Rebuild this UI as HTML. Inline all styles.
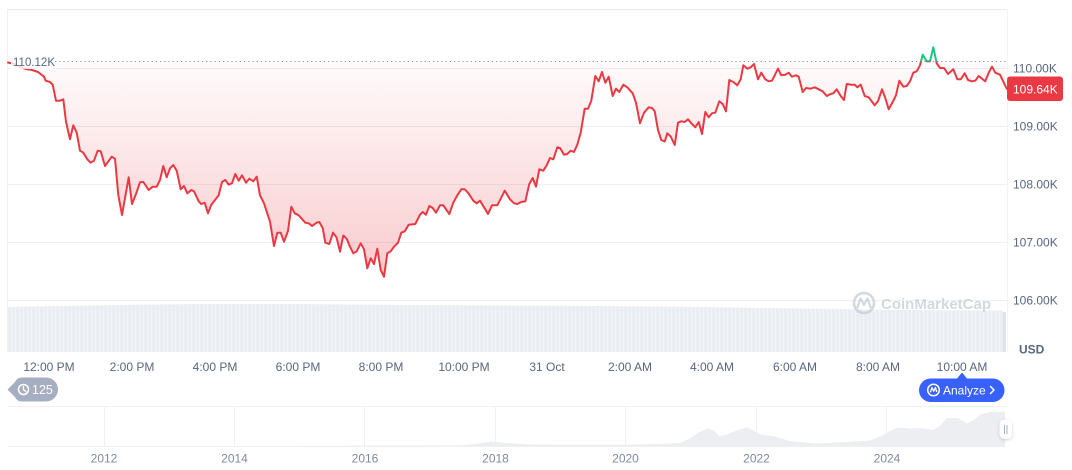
<!DOCTYPE html>
<html>
<head>
<meta charset="utf-8">
<style>
  html,body{margin:0;padding:0;background:#fff;}
  body{width:1072px;height:470px;overflow:hidden;}
  svg{display:block;font-family:"Liberation Sans",sans-serif;}
</style>
</head>
<body>
<svg width="1072" height="470" viewBox="0 0 1072 470" xmlns="http://www.w3.org/2000/svg">
  <defs>
    <linearGradient id="redfill" gradientUnits="userSpaceOnUse" x1="0" y1="62" x2="0" y2="285">
      <stop offset="0" stop-color="#ea3943" stop-opacity="0.02"/>
      <stop offset="1" stop-color="#ea3943" stop-opacity="0.27"/>
    </linearGradient>
    <clipPath id="below"><rect x="0" y="61.5" width="1072" height="300"/></clipPath>
    <clipPath id="above"><rect x="0" y="0" width="1072" height="61.5"/></clipPath>
    <pattern id="vol" width="4" height="60" patternUnits="userSpaceOnUse">
      <rect x="0" y="0" width="4" height="60" fill="#eaedf2"/>
      <rect x="3.2" y="0" width="0.8" height="60" fill="#f3f5f8"/>
    </pattern>
    <filter id="sh" x="-50%" y="-50%" width="200%" height="200%">
      <feDropShadow dx="0" dy="1" stdDeviation="1.5" flood-color="#000" flood-opacity="0.18"/>
    </filter>
  </defs>

  <!-- plot frame -->
  <line x1="8" y1="9.5" x2="1007" y2="9.5" stroke="#e6e9ed" stroke-width="1"/>
  <line x1="7.5" y1="9" x2="7.5" y2="352" stroke="#eef0f3" stroke-width="1"/>
  <line x1="1007.5" y1="9" x2="1007.5" y2="352" stroke="#f1f3f6" stroke-width="1"/>

  <!-- gridlines -->
  <g stroke="#eceff3" stroke-width="1">
    <line x1="8" y1="68.5" x2="1007" y2="68.5"/>
    <line x1="8" y1="126.5" x2="1007" y2="126.5"/>
    <line x1="8" y1="184.5" x2="1007" y2="184.5"/>
    <line x1="8" y1="242.5" x2="1007" y2="242.5"/>
    <line x1="8" y1="300.5" x2="1007" y2="300.5"/>
  </g>

  <!-- volume bars -->
  <polygon fill="url(#vol)" points="8,307 60,306 120,305 200,304 300,304 400,305 500,305.5 600,306 700,307 800,308.5 900,310 1000,310.5 1003,310.5 1003,352 8,352"/>
  <rect x="1003" y="312" width="3" height="40" fill="#dfe3ea"/>

  <!-- watermark -->
  <g opacity="0.8">
    <circle cx="864" cy="303" r="10" fill="none" stroke="#c9cfd8" stroke-width="2.6"/>
    <path d="M857.5,307 L860.5,298.5 L864,305 L867.5,298.5 L870.5,307" fill="none" stroke="#c9cfd8" stroke-width="2.2" stroke-linejoin="round" stroke-linecap="round"/>
    <text x="881" y="309" font-size="15" font-weight="bold" fill="#c9cfd8">CoinMarketCap</text>
  </g>

  <!-- fill area -->
  <polygon clip-path="url(#below)" fill="url(#redfill)" points="8,62.5 14,64 20,67 26,69 32,70 38,72 44,76.7 45.7,80.7 50,82 52.7,84.7 56,100.7 60,100.7 63.3,99.3 66,121.7 70,139.3 73.3,125.3 76.7,132.7 80,150.7 83.3,152.7 87.3,159.3 90.7,162.7 94,160.7 97.7,150.7 100.7,151.3 105,166 111.7,156.7 115,158.7 118.3,195 122,215 128.7,177.3 132,204 136,194 140,182.3 143.3,182 148.7,190 152.7,186.7 156.7,186.7 160,180 163.3,166 166.7,177.3 170,168.3 173.3,165 176.7,170.7 180.7,189.3 184,186 187.3,193.3 191.3,190 194,191.3 198.7,201.3 201.3,204 204.7,202.7 208,213.3 211.3,204.7 218.7,195.3 222,182 225.3,180 228.7,184.7 232,183.3 235.3,174 238.7,180.7 242,175.3 246,182.7 249.3,178.7 253.3,181.3 256.7,176.7 260,195.3 264,203.3 270,221.7 274,246 277.3,232.7 280.7,232.7 284,241.7 288,231 291.3,206.7 294.7,213.3 298.7,215.3 305.3,222.7 308.7,223.3 312,226 316.7,222.7 319.3,222 322.7,228 325.3,242.7 329.3,244 333,232.7 336.5,237.3 340,251.7 343.3,235.5 346.7,238.8 350,246.7 353.3,253.3 356.7,251.3 360.7,243.3 364,249.3 367.3,268.3 370.7,258.3 374,264 377.3,248.7 380.7,270 384,276.7 387.3,253.3 390.7,251.3 394,246.7 398,242.7 401.3,232.7 404.7,231.3 408.7,224.7 415.3,224 420,214.7 422.7,212 426,214.7 429.3,206 432.7,208 436,212.7 440,205.3 443.3,205.3 449.3,214 453.3,202.7 457.3,195.3 461.3,189.3 464.7,189.3 468,192.7 473.3,200.7 476.7,203.3 480,200.7 484,207.3 488,214 492,205.3 497.3,205.3 500.7,198.7 504.7,190.7 510,199.3 514,203.3 517.3,204 521.3,202 525.3,201.3 529.3,184 532.7,178 536,186.7 539.3,169.3 543.3,170.7 546.7,165.3 550,158 553.3,159.3 557.3,147.3 560,148 564,154.7 567.3,154 570.7,150.7 574,152 577.3,144.7 580.7,132.7 584.7,108.7 588,108.7 591.3,100.7 595.3,76 598.7,81.3 602,72 605.3,82.7 608.7,76.7 612.7,96 616,88.7 619.3,92 623.3,84.7 627.3,87.3 632.7,93.3 636,102.7 640,123.3 644,112.7 648.7,107.3 652,108 654.7,111.3 658,130 661.3,140 664.7,141.5 667.3,133.3 670.7,136.5 674.7,145 678,122.7 681.3,121.3 684.7,122 688,119.3 692,124 695.3,127.3 698.7,122 702,134 705.3,112 708.7,117.3 712,113.3 715.3,112.7 719.3,101.3 722.7,104 726,111.3 729.3,80 733.3,82 737.3,85.3 740.7,79.3 743.3,65.3 747.3,68.7 750.7,67.3 754,64 758,79.3 761.3,72.7 765.3,79.3 768.7,81.3 772,80.7 778,68.7 781.3,75.3 785.3,74.7 788.7,72.7 792,76.7 796,75.3 798.7,76.7 802.7,92 806,88 810.7,88.7 814.7,87.3 818.7,89.3 822.7,91.3 826.7,96 830.7,94 833.3,93.3 836.7,89.3 840.7,96 844,100 846.7,84 851.3,84.7 854.7,84.7 857.3,87.3 860.7,84.7 864.7,96 868.7,97.3 874.7,105.3 878,101.3 882,89.3 885.3,98 888.7,109.3 892.7,102 896,95.3 899.3,80.7 903.3,86.7 906.7,86 910,81.3 913.3,72.7 916.7,71.3 920,65.3 922.7,54.7 926.7,61.3 930,61.3 933.3,47.3 936.7,63.3 940,68 944,68 948,74 953.3,69.3 957.3,79.3 960.7,79.3 964.7,73.3 968,80 972,81.3 975.3,80.7 978.7,76 982,78.7 985.3,81.3 988.7,72.7 992,66.7 995.3,72.7 1000,74.7 1006.7,88.7 1006.7,61.5 8,61.5"/>

  <!-- dotted reference line -->
  <line x1="55" y1="61.5" x2="1007" y2="61.5" stroke="#8a93a5" stroke-width="1" stroke-dasharray="1.2 3"/>

  <!-- price line -->
  <g fill="none" stroke-width="2" stroke-linejoin="round" stroke-linecap="round">
    <polyline clip-path="url(#below)" stroke="#ea3943" points="8,62.5 14,64 20,67 26,69 32,70 38,72 44,76.7 45.7,80.7 50,82 52.7,84.7 56,100.7 60,100.7 63.3,99.3 66,121.7 70,139.3 73.3,125.3 76.7,132.7 80,150.7 83.3,152.7 87.3,159.3 90.7,162.7 94,160.7 97.7,150.7 100.7,151.3 105,166 111.7,156.7 115,158.7 118.3,195 122,215 128.7,177.3 132,204 136,194 140,182.3 143.3,182 148.7,190 152.7,186.7 156.7,186.7 160,180 163.3,166 166.7,177.3 170,168.3 173.3,165 176.7,170.7 180.7,189.3 184,186 187.3,193.3 191.3,190 194,191.3 198.7,201.3 201.3,204 204.7,202.7 208,213.3 211.3,204.7 218.7,195.3 222,182 225.3,180 228.7,184.7 232,183.3 235.3,174 238.7,180.7 242,175.3 246,182.7 249.3,178.7 253.3,181.3 256.7,176.7 260,195.3 264,203.3 270,221.7 274,246 277.3,232.7 280.7,232.7 284,241.7 288,231 291.3,206.7 294.7,213.3 298.7,215.3 305.3,222.7 308.7,223.3 312,226 316.7,222.7 319.3,222 322.7,228 325.3,242.7 329.3,244 333,232.7 336.5,237.3 340,251.7 343.3,235.5 346.7,238.8 350,246.7 353.3,253.3 356.7,251.3 360.7,243.3 364,249.3 367.3,268.3 370.7,258.3 374,264 377.3,248.7 380.7,270 384,276.7 387.3,253.3 390.7,251.3 394,246.7 398,242.7 401.3,232.7 404.7,231.3 408.7,224.7 415.3,224 420,214.7 422.7,212 426,214.7 429.3,206 432.7,208 436,212.7 440,205.3 443.3,205.3 449.3,214 453.3,202.7 457.3,195.3 461.3,189.3 464.7,189.3 468,192.7 473.3,200.7 476.7,203.3 480,200.7 484,207.3 488,214 492,205.3 497.3,205.3 500.7,198.7 504.7,190.7 510,199.3 514,203.3 517.3,204 521.3,202 525.3,201.3 529.3,184 532.7,178 536,186.7 539.3,169.3 543.3,170.7 546.7,165.3 550,158 553.3,159.3 557.3,147.3 560,148 564,154.7 567.3,154 570.7,150.7 574,152 577.3,144.7 580.7,132.7 584.7,108.7 588,108.7 591.3,100.7 595.3,76 598.7,81.3 602,72 605.3,82.7 608.7,76.7 612.7,96 616,88.7 619.3,92 623.3,84.7 627.3,87.3 632.7,93.3 636,102.7 640,123.3 644,112.7 648.7,107.3 652,108 654.7,111.3 658,130 661.3,140 664.7,141.5 667.3,133.3 670.7,136.5 674.7,145 678,122.7 681.3,121.3 684.7,122 688,119.3 692,124 695.3,127.3 698.7,122 702,134 705.3,112 708.7,117.3 712,113.3 715.3,112.7 719.3,101.3 722.7,104 726,111.3 729.3,80 733.3,82 737.3,85.3 740.7,79.3 743.3,65.3 747.3,68.7 750.7,67.3 754,64 758,79.3 761.3,72.7 765.3,79.3 768.7,81.3 772,80.7 778,68.7 781.3,75.3 785.3,74.7 788.7,72.7 792,76.7 796,75.3 798.7,76.7 802.7,92 806,88 810.7,88.7 814.7,87.3 818.7,89.3 822.7,91.3 826.7,96 830.7,94 833.3,93.3 836.7,89.3 840.7,96 844,100 846.7,84 851.3,84.7 854.7,84.7 857.3,87.3 860.7,84.7 864.7,96 868.7,97.3 874.7,105.3 878,101.3 882,89.3 885.3,98 888.7,109.3 892.7,102 896,95.3 899.3,80.7 903.3,86.7 906.7,86 910,81.3 913.3,72.7 916.7,71.3 920,65.3 922.7,54.7 926.7,61.3 930,61.3 933.3,47.3 936.7,63.3 940,68 944,68 948,74 953.3,69.3 957.3,79.3 960.7,79.3 964.7,73.3 968,80 972,81.3 975.3,80.7 978.7,76 982,78.7 985.3,81.3 988.7,72.7 992,66.7 995.3,72.7 1000,74.7 1006.7,88.7"/>
    <polyline clip-path="url(#above)" stroke="#16c784" points="916.7,71.3 920,65.3 922.7,54.7 926.7,61.3 930,61.3 933.3,47.3 936.7,63.3 940,68"/>
  </g>

  <!-- start label -->
  <rect x="11" y="55" width="43" height="14" fill="#ffffff" fill-opacity="0.8"/>
  <text x="13" y="66" font-size="11.5" fill="#58667e">110.12K</text>

  <!-- y axis labels -->
  <g font-size="12" fill="#58667e">
    <text x="1013" y="72.5">110.00K</text>
    <text x="1013" y="130.5">109.00K</text>
    <text x="1013" y="188.5">108.00K</text>
    <text x="1013" y="246.5">107.00K</text>
    <text x="1013" y="304.5">106.00K</text>
  </g>
  <rect x="1007" y="76.5" width="56" height="24.5" rx="3" fill="#ea3943"/>
  <text x="1013" y="93.3" font-size="12" fill="#ffffff">109.64K</text>
  <text x="1019" y="353.5" font-size="12" font-weight="bold" fill="#58667e">USD</text>

  <!-- x axis labels -->
  <g font-size="12" fill="#58667e" text-anchor="middle">
    <text x="49" y="371">12:00 PM</text>
    <text x="132" y="371">2:00 PM</text>
    <text x="215" y="371">4:00 PM</text>
    <text x="298" y="371">6:00 PM</text>
    <text x="381" y="371">8:00 PM</text>
    <text x="464" y="371">10:00 PM</text>
    <text x="547" y="371">31 Oct</text>
    <text x="630" y="371">2:00 AM</text>
    <text x="712" y="371">4:00 AM</text>
    <text x="795" y="371">6:00 AM</text>
    <text x="878" y="371">8:00 AM</text>
    <text x="962" y="371">10:00 AM</text>
  </g>

  <!-- 125 badge -->
  <path d="M7.5,389.5 L15,382 Q17,377.5 22,377.5 L46,377.5 A12,12 0 0 1 46,401.5 L22,401.5 Q17,401.5 15,397 Z" fill="#a6aec1"/>
  <circle cx="23.5" cy="389.5" r="5" fill="none" stroke="#fff" stroke-width="1.5"/>
  <path d="M23.5,386.5 L23.5,389.8 L25.8,391.3" fill="none" stroke="#fff" stroke-width="1.3" stroke-linecap="round"/>
  <text x="32" y="394" font-size="12.5" fill="#ffffff">125</text>

  <!-- Analyze button -->
  <path d="M957,378.5 L962,372.5 L967,378.5 Z" fill="#3861fb"/>
  <rect x="919" y="378.5" width="85.5" height="23.5" rx="11.75" fill="#3861fb"/>
  <circle cx="933.5" cy="390" r="5.8" fill="none" stroke="#fff" stroke-width="1.5"/>
  <path d="M930.3,392.3 L932,387.5 L933.7,391.3 L935.4,387.5 L936.8,392" fill="none" stroke="#fff" stroke-width="1.3" stroke-linejoin="round"/>
  <text x="943" y="394.5" font-size="12" fill="#ffffff">Analyze</text>
  <path d="M990.5,386.5 L994,390 L990.5,393.5" fill="none" stroke="#fff" stroke-width="1.5" stroke-linecap="round" stroke-linejoin="round"/>

  <!-- navigator -->
  <line x1="8" y1="406.5" x2="1006" y2="406.5" stroke="#eef0f3" stroke-width="1"/>
  <line x1="8" y1="446.5" x2="1006" y2="446.5" stroke="#eef0f3" stroke-width="1"/>
  <g stroke="#eef0f3" stroke-width="1">
    <line x1="104.5" y1="407" x2="104.5" y2="446"/>
    <line x1="234.5" y1="407" x2="234.5" y2="446"/>
    <line x1="364.5" y1="407" x2="364.5" y2="446"/>
    <line x1="495.5" y1="407" x2="495.5" y2="446"/>
    <line x1="625.5" y1="407" x2="625.5" y2="446"/>
    <line x1="756.5" y1="407" x2="756.5" y2="446"/>
    <line x1="886.5" y1="407" x2="886.5" y2="446"/>
  </g>
  <polygon fill="#eceef2" points="8,446 300,445.8 460,445.5 480,443.5 492,441.5 505,443 530,444.5 600,444.8 650,444.3 680,443 690,438.5 698,433 708,428.5 714,431 720,436.5 728,434 738,430 747,427.5 754,431 760,434.5 773,436 790,441 817,443.5 847,442 870,440.5 883,435 890,431 898,427.5 910,428.5 920,428 933,430 940,426 947,418 958,418 967,423.5 974,420 980,414.5 990,412 998,412 1005,411.5 1005,446"/>
  <g font-size="12" fill="#808a9d" text-anchor="middle">
    <text x="104" y="462.5">2012</text>
    <text x="234.5" y="462.5">2014</text>
    <text x="365" y="462.5">2016</text>
    <text x="495.5" y="462.5">2018</text>
    <text x="625.5" y="462.5">2020</text>
    <text x="756.5" y="462.5">2022</text>
    <text x="887" y="462.5">2024</text>
  </g>
  <!-- handle -->
  <rect x="999.5" y="419.5" width="12.5" height="19.5" rx="5" fill="#ffffff" filter="url(#sh)"/>
  <line x1="1004.5" y1="425" x2="1004.5" y2="434" stroke="#a6b0c3" stroke-width="1"/>
  <line x1="1007" y1="425" x2="1007" y2="434" stroke="#a6b0c3" stroke-width="1"/>
</svg>
</body>
</html>
